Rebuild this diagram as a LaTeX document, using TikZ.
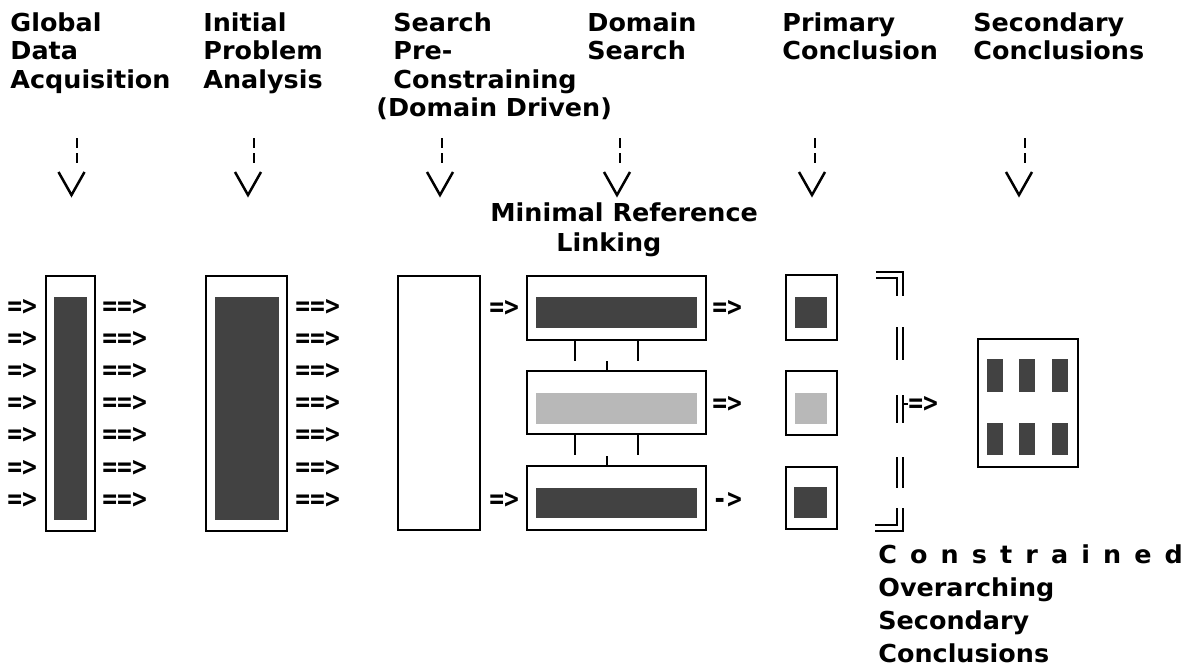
\documentclass[tikz,border=0pt]{standalone}
\usepackage{fontspec}
\usetikzlibrary{fit,calc}
\newfontfamily\hfont[FakeStretch=1.03]{DejaVu Sans}
\newfontfamily\lsfont[FakeStretch=1.03,LetterSpace=53]{DejaVu Sans}
\newfontfamily\mfont[FakeStretch=0.88]{DejaVu Sans Mono}
\begin{document}
\begin{tikzpicture}[x=0.5pt,y=-0.5pt,
  box/.style={draw,line width=1.25pt,inner sep=0pt},
  dark/.style={fill=black!74,draw=none,inner sep=0pt},
  light/.style={fill=black!28,draw=none,inner sep=0pt},
  head/.style={anchor=north west,inner sep=0pt,align=left,font=\hfont\bfseries\fontsize{12.35}{14.25}\selectfont},
  arr/.style={anchor=west,inner sep=0pt,font=\mfont\bfseries\fontsize{14}{16}\selectfont},
  lnk/.style={line width=1.25pt},
  dsh/.style={line width=1.4pt},
  dbl/.style={double,line width=1pt,double distance=2pt}
]
\useasboundingbox (0,0) rectangle (1200,669);

% headers
\node[head] (h1) at (10,12) {Global\\Data\\Acquisition};
\node[head] (h2) at (203,12) {Initial\\Problem\\Analysis};
\node[head] (h3) at (393,12) {Search\\Pre-\\Constraining};
\node[head] (h3b) at (376,97) {(Domain Driven)};
\node[head] (h4) at (587,12) {Domain\\Search};
\node[head] (h5) at (782,12) {Primary\\Conclusion};
\node[head] (h6) at (973,12) {Secondary\\Conclusions};

% dashed down arrows
\foreach \dx/\vc [count=\i] in {77/71.5,254/248,442/440,620/617,815/812,1025/1019}{
  \coordinate (d\i) at (\dx,138);
  \draw[dsh] (d\i) -- ++(0,10) ($(d\i)+(0,15)$) -- ++(0,10);
  \coordinate (v\i) at (\vc,195);
  \draw[lnk] ($(v\i)+(-13,-23)$) -- (v\i) -- ($(v\i)+(13,-23)$);
}

\node[head,font=\hfont\bfseries\fontsize{12.35}{15}\selectfont] (mrl) at (490,202) {Minimal Reference\\\hspace*{33pt}Linking};

% column 1
\node[box,fit={(46,276)(95,531)}] (gda) {};
\node[dark,fit={(54,297)(87,520)}] (gdain) {};
% column 2
\node[box,fit={(206,276)(287,531)}] (ipa) {};
\node[dark,fit={(215,297)(279,520)}] (ipain) {};
\foreach \y [count=\i] in {307,339.2,371.4,403.6,435.8,468,500}{
  \node[arr] (la\i) at (7,\y) {=>};
  \node[arr] (ra\i) at (102,\y) {==>};
  \node[arr] (pa\i) at (295,\y) {==>};
}
% column 3
\node[box,fit={(398,276)(480,530)}] (spc) {};

% domain search
\node[box,fit={(527,276)(706,340)}] (ds1) {};
\node[dark,fit={(536,297)(697,328)}] (ds1in) {};
\node[box,fit={(527,371)(706,434)}] (ds2) {};
\node[light,fit={(536,393)(697,424)}] (ds2in) {};
\node[box,fit={(527,466)(706,530)}] (ds3) {};
\node[dark,fit={(536,488)(697,518)}] (ds3in) {};
\node[arr] (dl1) at (489,308) {=>};
\node[arr] (dl3) at (489,500) {=>};
\node[arr] (dr1) at (712,308) {=>};
\node[arr] (dr2) at (712,404) {=>};
\node[arr] (dr3) at (712,500) {->};
\foreach \u/\l in {ds1/ds2,ds2/ds3}{
  \draw[lnk] ($(\u.south west)+(49,0)$) -- ++(0,20);
  \draw[lnk] ($(\u.south west)+(112,0)$) -- ++(0,20);
  \draw[lnk] ($(\l.north west)+(81,0)$) -- ++(0,-9);
}

% primary conclusion
\node[box,fit={(786,275)(837,340)}] (pc1) {};
\node[dark,fit={(795,297)(827,328)}] (pc1in) {};
\node[box,fit={(786,371)(837,435)}] (pc2) {};
\node[light,fit={(795,393)(827,424)}] (pc2in) {};
\node[box,fit={(786,467)(837,529)}] (pc3) {};
\node[dark,fit={(794,487)(827,518)}] (pc3in) {};

% bracket
\draw[dbl] (876,275) -- (900,275) -- (900,296);
\draw[dbl] (900,327) -- (900,360);
\draw[dbl] (900,395) -- (900,423);
\draw[dbl] (900,457) -- (900,488);
\draw[dbl] (900,508) -- (900,528) -- (875,528);
\coordinate (bt) at (903,404);
\node[arr] (br) at (908,404) {=>};
\draw[lnk] (bt) -- (br.west);

% secondary conclusions
\node[box,fit={(978,339)(1078,467)}] (sc) {};
\foreach \x [count=\i] in {987,1019,1052}{
  \node[dark,fit={(\x,359)(\x+16,392)}] (sa\i) {};
  \node[dark,fit={(\x,423)(\x+16,455)}] (sb\i) {};
}

\node[head,font=\hfont\bfseries\fontsize{12.35}{16.5}\selectfont] (coc) at (878,544) {{\lsfont\bfseries Constrained}\\Overarching\\Secondary\\Conclusions};
\end{tikzpicture}
\end{document}
